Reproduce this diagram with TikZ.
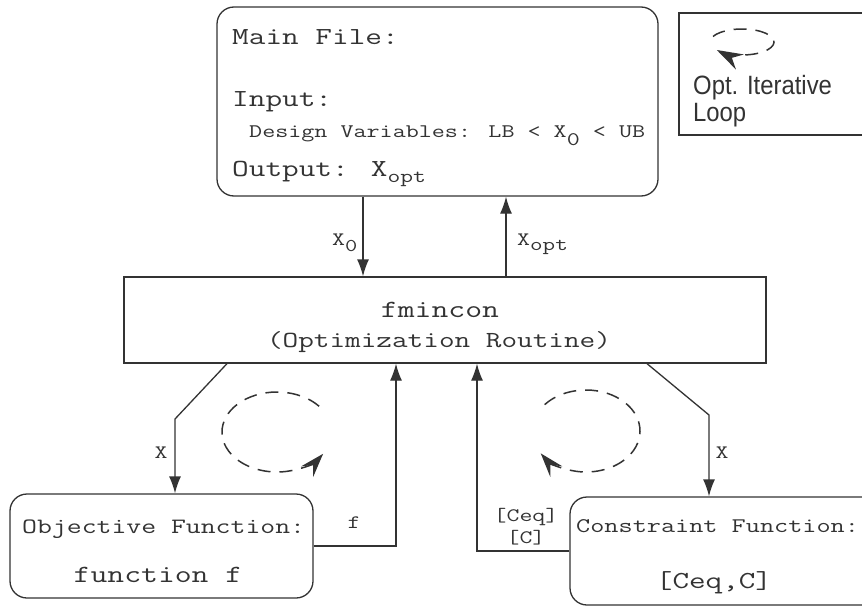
\documentclass[tikz,border=0pt]{standalone}
\usepackage{fontspec}
\usepackage{graphicx}
\usetikzlibrary{arrows.meta}
\newfontfamily\legendfont{Liberation Sans}
\definecolor{ink}{gray}{0.2}

% typewriter text, widened like Courier
\newcommand\mono[2]{\scalebox{1.32}[1]{\fontsize{#1}{#1}\selectfont\ttfamily #2}}
% lowered index inside a typewriter label
\newcommand\idx[3]{\raisebox{-#1pt}{\fontsize{#2}{#2}\selectfont #3}}

\begin{document}
\begin{tikzpicture}[x=1pt,y=-1pt,
  box/.style={draw=ink, line width=1.3pt, fill=white, rectangle, inner sep=0pt},
  rbox/.style={box, rounded corners=17pt},
  txt/.style={inner sep=0pt, anchor=base west, text=ink},
  lab/.style={inner sep=0pt, anchor=base, text=ink},
  conn/.style={draw=ink, line width=1.3pt, -{Latex[length=17pt,width=12pt]}},
  loopline/.style={draw=ink, line width=1.5pt, dash pattern=on 13pt off 9pt,
    -{Stealth[length=24pt,width=16pt,inset=9pt]}}
]
\useasboundingbox (0,0) rectangle (862,607);
\fill[white] (0,0) rectangle (862,607);
\begin{scope}
\clip (0,0) rectangle (862,607);

% ---- boxes ----
\node[rbox, minimum width=441pt, minimum height=189pt] (main) at (437.5,101.5) {};
\node[box, minimum width=221pt, minimum height=122pt] (legend) at (789.5,74) {};
\node[box, minimum width=642pt, minimum height=86pt] (fmin) at (445,320) {};
\node[rbox, minimum width=303pt, minimum height=104pt] (obj) at (161.5,546) {};
\node[rbox, minimum width=330pt, minimum height=108pt] (con) at (735,551) {};

% ---- main file text ----
\node[txt] (mainT) at (232,45) {\mono{24.5}{Main File:}};
\node[txt] (inT) at (232,107) {\mono{24.5}{Input:}};
\node[txt] (dvT) at (249,138) {\mono{19.2}{Design Variables: LB < X\idx{7.5}{19.2}{0} < UB}};
\node[txt] (outT) at (232,176) {\mono{24.5}{Output: X\idx{6}{18.8}{opt}}};

% ---- optimizer text ----
\node[lab] (fminT) at (440,317) {\mono{24.8}{fmincon}};
\node[lab] (routT) at (439,347) {\mono{23}{(Optimization Routine)}};

% ---- function boxes text ----
\node[txt] (objT) at (22,533) {\mono{21.9}{Objective Function:}};
\node[lab] (objF) at (158,582) {\mono{24.8}{function f}};
\node[txt] (conT) at (576,532) {\mono{20.8}{Constraint Function:}};
\node[lab] (conF) at (714,588) {\mono{24.4}{[Ceq,C]}};

% ---- legend ----
\node[txt] (legA) at (693,95) {\scalebox{0.9}[1]{\fontsize{26.5}{26.5}\selectfont\legendfont Opt. Iterative}};
\node[txt] (legB) at (693,122) {\scalebox{0.9}[1]{\fontsize{26.5}{26.5}\selectfont\legendfont Loop}};
\coordinate (loopK) at (742,42);
\draw[loopline, -{Stealth[length=26pt,width=17pt,inset=9pt]}]
  (loopK) ++(205:32 and 13) arc[start angle=205, end angle=502, x radius=32, y radius=13];

% ---- connectors between main file and optimizer ----
\coordinate (c0) at (363,0);
\coordinate (copt) at (506,0);
\draw[conn] (main.south -| c0) -- (fmin.north -| c0);
\draw[conn] (fmin.north -| copt) -- (main.south -| copt);
\node[txt] (x0L) at (332,245) {\mono{19}{X\idx{6}{18}{0}}};
\node[txt] (xoptL) at (517,245) {\mono{19}{X\idx{5}{18.5}{opt}}};

% ---- objective branch ----
\coordinate (xl0) at (227,0);
\coordinate (xlb) at (175,419);
\coordinate (fcol) at (396,0);
\draw[conn] (fmin.south -| xl0) -- (xlb) -- (obj.north -| xlb);
\draw[conn] (obj.east) -| (fmin.south -| fcol);
\node[lab] (xLl) at (161,458) {\mono{19}{X}};
\node[lab] (fL) at (354,528) {\mono{19}{f}};

% ---- constraint branch ----
\coordinate (xr0) at (647,0);
\coordinate (xrb) at (709,415);
\coordinate (ccol) at (477,0);
\draw[conn] (fmin.south -| xr0) -- (xrb) -- (con.north -| xrb);
\draw[conn] (con.west) -| (fmin.south -| ccol);
\node[lab] (xRl) at (722,458) {\mono{19}{X}};
\node[lab] (ceqL) at (526,521) {\mono{19}{[Ceq]}};
\node[lab] (cL) at (526,543) {\mono{19}{[C]}};

% ---- iteration loops ----
\coordinate (loopL) at (277,432);
\coordinate (loopR) at (586,431);
\draw[loopline] (loopL) ++(-40:55 and 40) arc[start angle=-40, end angle=-327, x radius=55, y radius=40];
\draw[loopline] (loopR) ++(-140:54 and 41) arc[start angle=-140, end angle=147, x radius=54, y radius=41];
\end{scope}
\end{tikzpicture}
\end{document}
